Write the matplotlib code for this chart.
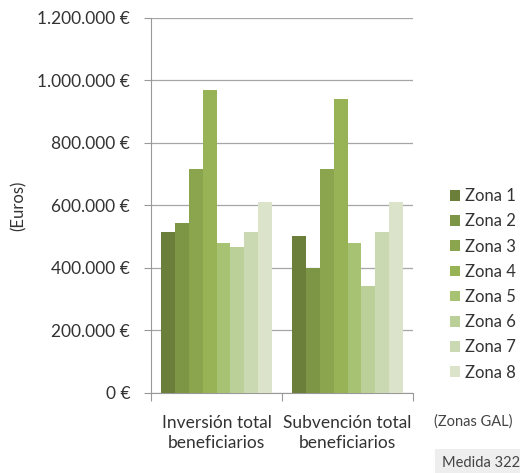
import numpy as np
import matplotlib
matplotlib.use("Agg")
import matplotlib.pyplot as plt
from matplotlib.ticker import FuncFormatter

plt.rcParams["font.family"] = ["Lato", "DejaVu Sans"]

categories = ["Inversión total\nbeneficiarios", "Subvención total\nbeneficiarios"]
zonas = ["Zona 1", "Zona 2", "Zona 3", "Zona 4", "Zona 5", "Zona 6", "Zona 7", "Zona 8"]
inversion = [516000, 544000, 718000, 968000, 481000, 467000, 516000, 612000]
subvencion = [503000, 400000, 718000, 939000, 481000, 342000, 516000, 612000]
colors = ["#6b7f3b", "#7d9645", "#8aa54e", "#97b356", "#a8c273", "#bbcf99", "#cad9b1", "#dbe4cb"]

values = np.array([inversion, subvencion])

fig = plt.figure(figsize=(5.2, 4.73), dpi=100)
ax = fig.add_axes([151 / 520, 1 - 392.7 / 473, 262 / 520, 374.7 / 473])

n = len(zonas)
group_w = 0.84
bw = group_w / n
x = np.arange(len(categories))
for i in range(n):
    ax.bar(x - group_w / 2 + bw * (i + 0.5), values[:, i], width=bw,
           color=colors[i], label=zonas[i], linewidth=0, zorder=3)

ax.set_xlim(-0.5, 1.5)
ax.set_ylim(0, 1200000)
ax.set_yticks(np.arange(0, 1200001, 200000))
ax.yaxis.set_major_formatter(FuncFormatter(lambda v, p: f"{int(v):,} €".replace(",", ".")))
ax.grid(axis="y", color="#a6a6a6", linewidth=0.9, zorder=0)

ax.set_xticks([-0.5, 0.5, 1.5])
ax.set_xticklabels([])
ax.set_xticks(x, minor=True)
ax.set_xticklabels(categories, minor=True, fontsize=12.5, color="#333333", linespacing=1.3)
ax.tick_params(axis="x", which="minor", length=0, pad=16)
ax.tick_params(axis="x", which="major", length=6, color="#999999", direction="out")
ax.tick_params(axis="y", length=5, color="#999999", labelsize=12.5, labelcolor="#333333", pad=10)

for s in ["top", "right"]:
    ax.spines[s].set_visible(False)
ax.spines["left"].set_color("#999999")
ax.spines["bottom"].set_color("#999999")

ax.set_ylabel("(Euros)", fontsize=12, color="#333333")
ax.yaxis.set_label_coords(-0.475, 0.5)

leg = ax.legend(loc="upper left", bbox_to_anchor=(442 / 520, 1 - 180 / 473),
                bbox_transform=fig.transFigure, frameon=False, fontsize=12,
                handlelength=0.6, handleheight=0.6, handletextpad=0.3,
                labelspacing=0.55, borderpad=0)
for t in leg.get_texts():
    t.set_color("#333333")

fig.text(473 / 520, 1 - 422 / 473, "(Zonas GAL)", fontsize=10.5, color="#444444",
         ha="center", va="center")
fig.text(481 / 520, 1 - 463 / 473, "Medida 322", fontsize=10.5, color="#444444",
         ha="center", va="center",
         bbox=dict(boxstyle="square,pad=0.45", facecolor="#eeeeee", edgecolor="none"))

fig.savefig("out.png", dpi=100)
